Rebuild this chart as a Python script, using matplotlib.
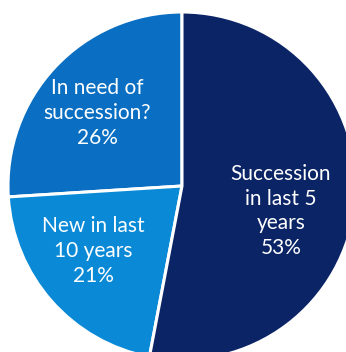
import matplotlib
matplotlib.use("Agg")
import matplotlib.pyplot as plt

categories = ["In need of\nsuccession?", "New in last\n10 years", "Succession\nin last 5\nyears"]
values = [26, 21, 53]
colors = ["#0A6FC2", "#0A8AD6", "#0B2466"]

plt.rcParams['font.family'] = ['Lato', 'DejaVu Sans']

fig = plt.figure(figsize=(3.46, 3.52), dpi=100)
ax = fig.add_axes([0, 0, 1, 1])
ax.pie(values, startangle=90, counterclock=True, colors=colors,
       center=(182, 166), radius=174,
       wedgeprops=dict(edgecolor="white", linewidth=2.2))
ax.set_xlim(0, 346)
ax.set_ylim(0, 352)
ax.set_aspect('equal')
ax.axis('off')

label_pos = [(97, 352 - 113), (93, 352 - 251), (281, 352 - 211)]
for cat, v, (x, y) in zip(categories, values, label_pos):
    ax.text(x, y, f"{cat}\n{v}%", ha="center", va="center", color="white",
            fontsize=15, linespacing=1.3)

fig.savefig("out.png", dpi=100)
